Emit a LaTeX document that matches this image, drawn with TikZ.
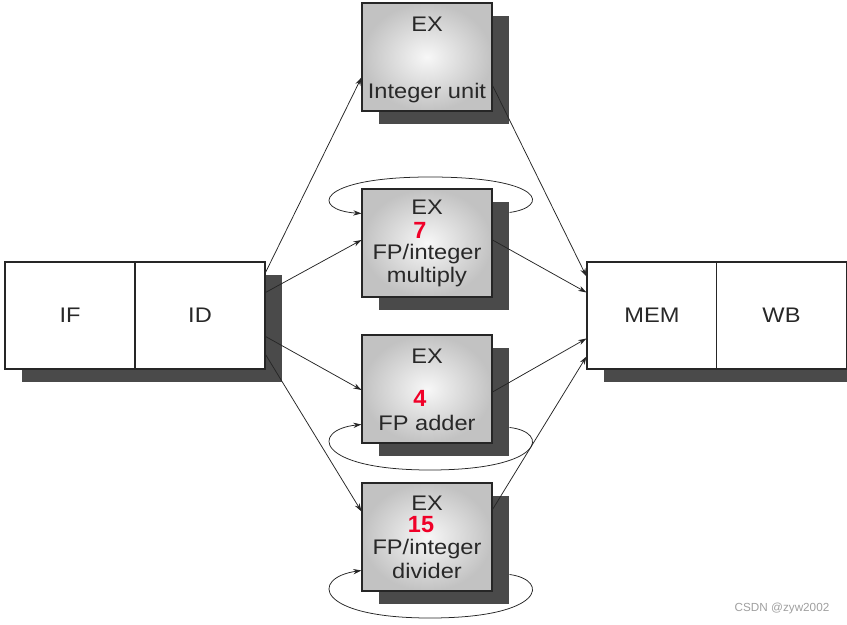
\documentclass[tikz,border=0pt]{standalone}
\usepackage{fontspec}
\setmainfont{Liberation Sans}[FakeStretch=1.12]
\newfontfamily\plainsans{Liberation Sans}
\usetikzlibrary{calc,arrows.meta,shadows}
\definecolor{shadowgray}{RGB}{74,74,74}
\definecolor{numred}{RGB}{240,0,40}
\definecolor{txtgray}{RGB}{40,40,40}
\begin{document}
\begin{tikzpicture}[x=0.03cm,y=-0.03cm,
  stagebox/.style={draw=black!85, line width=0.9pt, fill=white,
    minimum width=3.9cm, minimum height=3.21cm, inner sep=0pt,
    font=\fontsize{18}{20}\selectfont, text=txtgray},
  exbox/.style={draw=black!85, line width=0.9pt,
    minimum width=3.9cm, minimum height=3.24cm, inner sep=0pt,
    inner color=gray!6, outer color=gray!48},
  boxshadow/.style={drop shadow={shadow xshift=0.51cm, shadow yshift=-0.39cm,
    fill=shadowgray, opacity=1}},
  lbl/.style={anchor=base, inner sep=0pt, font=\fontsize{18}{20}\selectfont, text=txtgray},
  num/.style={anchor=base, inner sep=0pt, font=\plainsans\fontsize{20}{22}\selectfont\bfseries, text=numred},
  conn/.style={line width=0.65pt, draw=black!85, -{Stealth[length=7pt,width=4.5pt]}},
]
\useasboundingbox (0,0) rectangle (847,625);

% pipeline stages
\node[stagebox, boxshadow] (IF) at (70,315.5) {IF};
\node[stagebox, boxshadow] (ID) at (200,315.5) {ID};
\node[stagebox, boxshadow] (MEM) at (652,315.5) {MEM};
\node[stagebox, boxshadow] (WB) at (781.5,315.5) {WB};

% EX units
\node[exbox, boxshadow] (ex1) at (427,57) {};
\node[exbox, boxshadow] (ex2) at (427,243) {};
\node[exbox, boxshadow] (ex3) at (427,389) {};
\node[exbox, boxshadow] (ex4) at (427,537) {};

\node[lbl] (ex1a) at (427,32) {EX};
\node[lbl] (ex1b) at (427,99) {Integer unit};

\node[lbl] (ex2a) at (427,215) {EX};
\node[num] (ex2n) at (420,238) {7};
\node[lbl] (ex2b) at (427,259) {FP/integer};
\node[lbl] (ex2c) at (427,282) {multiply};

\node[lbl] (ex3a) at (427,363) {EX};
\node[num] (ex3n) at (420,406) {4};
\node[lbl] (ex3b) at (427,430) {FP adder};

\node[lbl] (ex4a) at (427,510) {EX};
\node[num] (ex4n) at (421,532) {15};
\node[lbl] (ex4b) at (427,554) {FP/integer};
\node[lbl] (ex4c) at (427,578) {divider};

% ID -> EX
\draw[conn] ($(ID.north east)+(0,11)$) -- ($(ex1.north west)+(0,75)$);
\draw[conn] ($(ID.north east)+(0,31)$) -- ($(ex2.west)+(0,-3)$);
\draw[conn] ($(ID.north east)+(0,75)$) -- ($(ex3.west)+(0,1)$);
\draw[conn] ($(ID.north east)+(0,93)$) -- ($(ex4.north west)+(0,29)$);

% EX -> MEM
\draw[conn] ($(ex1.north east)+(0,83)$) -- ($(MEM.north west)+(0,15)$);
\draw[conn] ($(ex2.east)+(0,-3)$) -- ($(MEM.north west)+(0,31)$);
\draw[conn] ($(ex3.east)+(0,3)$) -- ($(MEM.north west)+(0,77)$);
\draw[conn] ($(ex4.north east)+(0,27)$) -- ($(MEM.north west)+(0,95)$);

% self loops
\coordinate (l2s) at ($(ex2.north east)+(17,24)$);
\coordinate (l3s) at ($(ex3.north east)+(17,93)$);
\coordinate (l4s) at ($(ex4.north east)+(17,92)$);
\draw[conn] (l2s) .. controls (550,207) and (545,177) .. (430,177)
  .. controls (315,177) and (310,210) .. ($(ex2.north west)+(0,25)$);
\draw[conn] (l3s) .. controls (550,432) and (545,470) .. (430,470)
  .. controls (315,470) and (310,430) .. ($(ex3.north west)+(0,90)$);
\draw[conn] (l4s) .. controls (550,580) and (545,618) .. (430,618)
  .. controls (315,618) and (310,578) .. ($(ex4.north west)+(0,88)$);

% watermark
\node[font=\plainsans\fontsize{10}{12}\selectfont, text=gray!75] (wm) at (782,608) {CSDN @zyw2002};
\end{tikzpicture}
\end{document}
